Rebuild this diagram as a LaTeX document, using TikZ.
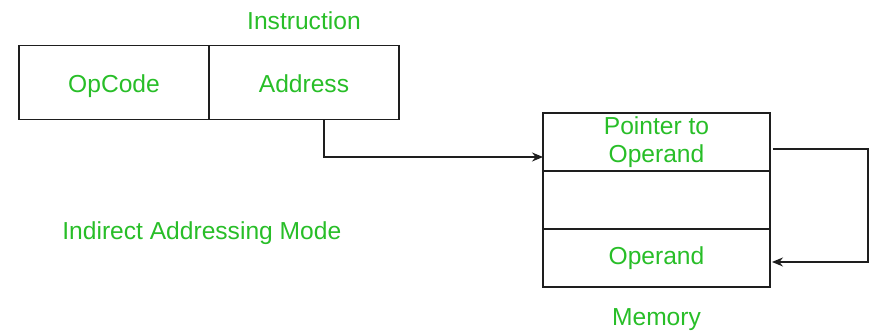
\documentclass[tikz,border=0pt]{standalone}
\usepackage{fontspec}
\setmainfont{Liberation Sans}
\usetikzlibrary{arrows.meta, positioning, calc}
\definecolor{labelgreen}{RGB}{40,190,40}
\definecolor{linegray}{RGB}{30,30,30}
\tikzset{
    field/.style={
        rectangle,
        minimum width=3.8cm,
        minimum height=1.49cm,
        text height=13pt,
        text depth=2pt,
        text centered,
        outer sep=0pt,
        draw=linegray,
        line width=0.75pt,
        text=labelgreen,
        font=\fontsize{14}{16}\selectfont
    },
    memcell/.style={
        rectangle,
        minimum width=4.54cm,
        minimum height=1.16cm,
        inner sep=1pt,
        align=center,
        outer sep=0pt,
        draw=linegray,
        line width=0.75pt,
        text=labelgreen,
        font=\fontsize{14}{16}\selectfont
    },
    greentext/.style={
        inner sep=0pt,
        text=labelgreen,
        font=\fontsize{14}{16}\selectfont
    },
    arrow/.style={
        draw=linegray,
        line width=0.75pt,
        -{Stealth[length=0.22cm, width=0.18cm]}
    }
}

\begin{document}
\begin{tikzpicture}[x=0.02cm, y=-0.02cm]
\useasboundingbox (0,0) rectangle (873,332);

% Instruction word
\node (opcode) [field] at (114,82.5) {OpCode};
\node (address) [field, right=0pt of opcode] {Address};
\node (instr) [greentext, above=0.3cm of address] {Instruction};

% Memory
\node (cell1) [memcell] at (656.5,142) {Pointer to\\Operand};
\node (cell2) [memcell, below=0pt of cell1] {};
\node (cell3) [memcell, below=0pt of cell2] {Operand};
\node (memory) [greentext, below=0.43cm of cell3] {Memory};

% Mode name
\node (mode) [greentext, anchor=base west] at (62,239) {Indirect Addressing Mode};

% Arrows
\draw[arrow] ($(address.south)+(20,0)$) |- ($(cell1.west)+(0,15)$);
\draw[arrow] ($(cell1.east)+(3,7)$) -| ($(cell3.east)+(98,4)$) -- ($(cell3.east)+(2,4)$);

\end{tikzpicture}
\end{document}
